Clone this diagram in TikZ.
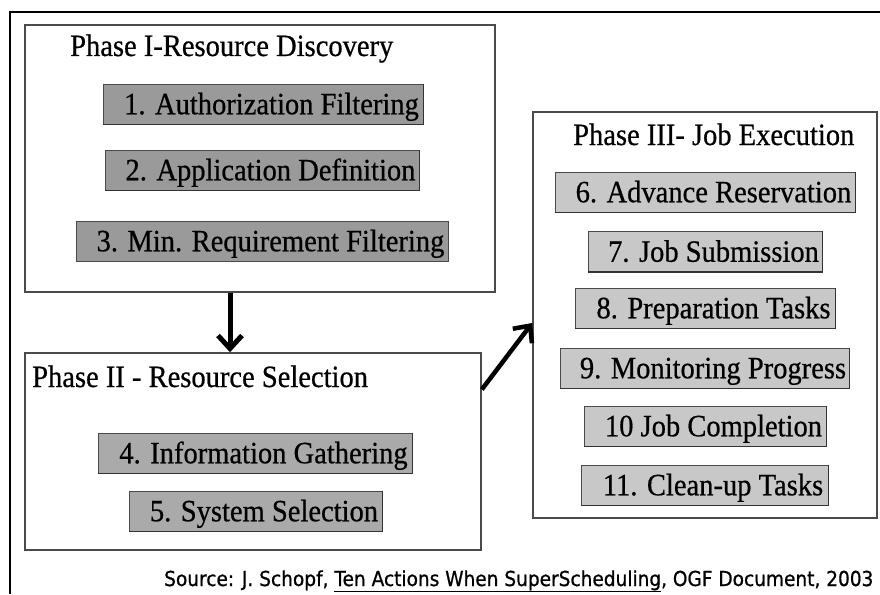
\documentclass[tikz,border=0pt]{standalone}
\usepackage{fontspec}
\setmainfont[FakeStretch=0.92,FakeBold=0.6]{Liberation Serif}
\newfontfamily\srcfont[FakeStretch=0.9,FakeBold=0.8]{DejaVu Sans}
\usetikzlibrary{arrows.meta}
\definecolor{fillA}{HTML}{9A9A9A}
\definecolor{fillB}{HTML}{AAAAAA}
\definecolor{fillC}{HTML}{C8C8C8}
\definecolor{edge}{HTML}{4A4A4A}
\begin{document}
\begin{tikzpicture}[x=1pt,y=-1pt,
  phase/.style={draw=edge, line width=1.6pt, inner sep=0pt},
  taskbox/.style={draw=edge, line width=0.8pt, inner sep=0pt, minimum height=40pt,
    text height=20.5pt, text depth=0pt, font=\fontsize{31}{33}\selectfont},
  boxshadow/.style={draw=black!80, line width=1.6pt},
  head/.style={anchor=base west, inner sep=0pt, font=\fontsize{31}{33}\selectfont},
  bigarrow/.style={line width=5pt, -{Straight Barb[length=13pt,width=24pt]}}]
\useasboundingbox (0,0) rectangle (880,594);
% outer frame
\draw[line width=2pt] (10,594) -- (10,12) -- (880,12);
% phase boxes
\node[phase, minimum width=470pt, minimum height=267pt] (p1) at (260,158.5) {};
\node[phase, minimum width=456pt, minimum height=197pt] (p2) at (253,451.5) {};
\node[phase, minimum width=344pt, minimum height=406pt] (p3) at (705,315) {};
% headings
\node[head] (h1) at (70,56) {Phase I-Resource Discovery};
\node[head] (h2) at (32,387) {Phase II - Resource Selection};
\node[head] (h3) at (573,145) {Phase III- Job Execution};
% tasks
\node[taskbox, fill=fillA, minimum width=320pt] (t1) at (263,104) {\hspace*{17pt}1. Authorization Filtering};
\node[taskbox, fill=fillA, minimum width=314pt] (t2) at (262,170) {\hspace*{17pt}2. Application Definition};
\node[taskbox, fill=fillA, minimum width=372pt] (t3) at (262,241) {\hspace*{17pt}3. Min. Requirement Filtering};
\node[taskbox, fill=fillB, minimum width=314pt] (t4) at (255,453) {\hspace*{17pt}4. Information Gathering};
\node[taskbox, fill=fillB, minimum width=253pt] (t5) at (255.5,511) {\hspace*{17pt}5. System Selection};
\node[taskbox, fill=fillC, minimum width=300pt] (t6) at (705,192) {\hspace*{17pt}6. Advance Reservation};
\node[taskbox, fill=fillC, minimum width=234pt] (t7) at (705,251.5) {\hspace*{17pt}7. Job Submission};
\node[taskbox, fill=fillC, minimum width=260pt] (t8) at (705,308) {\hspace*{17pt}8. Preparation Tasks};
\node[taskbox, fill=fillC, minimum width=289pt] (t9) at (704.5,368) {\hspace*{17pt}9. Monitoring Progress};
\node[taskbox, fill=fillC, minimum width=242pt] (t10) at (705,426) {\hspace*{17pt}10 Job Completion};
\node[taskbox, fill=fillC, minimum width=247pt] (t11) at (704.5,485) {\hspace*{17pt}11. Clean-up Tasks};
\foreach \t in {t1,t2,t4,t5,t6,t7,t8,t9,t10,t11}
  \draw[boxshadow] (\t.north east) -- (\t.south east) -- (\t.south west);
% arrows
\draw[bigarrow] ([xshift=-30pt]p1.south) -- ([xshift=-23pt]p2.north);
\draw[bigarrow, line width=4.5pt] ([yshift=62pt]p2.east) -- ([yshift=-8pt]p3.west);
% source
\node[anchor=base west, inner sep=0pt, font=\srcfont\fontsize{20.6}{22}\selectfont] (src) at (164,586)
  {Source: J. Schopf, \underline{Ten Actions When SuperScheduling}, OGF Document, 2003};
\end{tikzpicture}
\end{document}
